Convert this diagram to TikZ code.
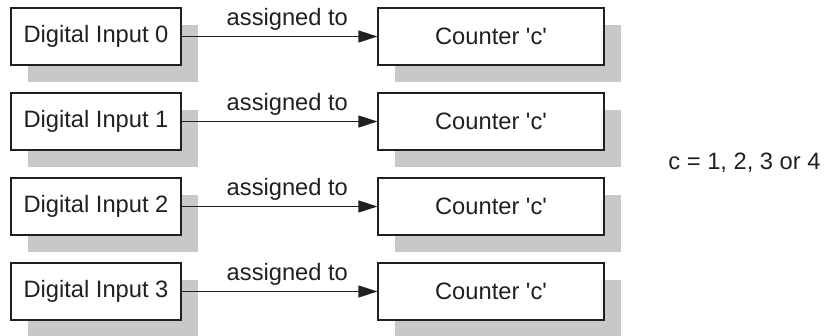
\documentclass[tikz,border=0pt]{standalone}
\usepackage{fontspec}
\setmainfont{Liberation Sans}
\usetikzlibrary{arrows.meta,shadows}
\definecolor{shadowgray}{RGB}{200,200,200}
\definecolor{inkgray}{RGB}{35,31,32}
\begin{document}
\begin{tikzpicture}[x=1pt, y=-1pt,
		font=\fontsize{23.7}{28}\selectfont, text=inkgray,
		blockbox/.style={rectangle, draw=inkgray, fill=white, line width=1.2pt, inner sep=0pt, minimum height=57pt,
			general shadow={fill=shadowgray, shadow xshift=17pt, shadow yshift=-17pt}},
		inputbox/.style={blockbox, minimum width=170pt},
		counterbox/.style={blockbox, minimum width=226pt},
		assign/.style={draw=inkgray, line width=1.2pt, -{Triangle[length=19pt, width=12pt]}}]
			\useasboundingbox (0,0) rectangle (826,335);

			% Define nodes with their coordinates
			\node[inputbox] (in0) at (96, 36.5) {Digital Input 0};
			\node[counterbox] (cnt0) at (491, 36.5) {Counter \textquotesingle c\textquotesingle};
			\node[inputbox] (in1) at (96, 121.5) {Digital Input 1};
			\node[counterbox] (cnt1) at (491, 121.5) {Counter \textquotesingle c\textquotesingle};
			\node[inputbox] (in2) at (96, 206.5) {Digital Input 2};
			\node[counterbox] (cnt2) at (491, 206.5) {Counter \textquotesingle c\textquotesingle};
			\node[inputbox] (in3) at (96, 291.5) {Digital Input 3};
			\node[counterbox] (cnt3) at (491, 291.5) {Counter \textquotesingle c\textquotesingle};

			\node (note) at (744.5, 163) {c = 1, 2, 3 or 4};

			% Draw edges with labels
			\draw[assign] (in0) -- (cnt0) node[pos=0.54, above=2pt] {assigned to};
			\draw[assign] (in1) -- (cnt1) node[pos=0.54, above=2pt] {assigned to};
			\draw[assign] (in2) -- (cnt2) node[pos=0.54, above=2pt] {assigned to};
			\draw[assign] (in3) -- (cnt3) node[pos=0.54, above=2pt] {assigned to};

		\end{tikzpicture}
\end{document}
